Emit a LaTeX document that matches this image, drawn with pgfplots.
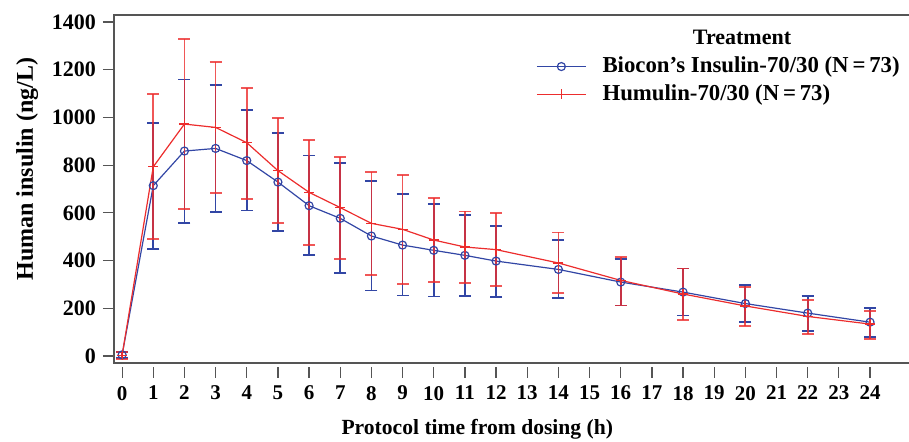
\documentclass[border=0pt]{standalone}
\usepackage{fontspec}
\setmainfont{Liberation Serif}
\usepackage{pgfplots}
\usepackage{pgfplotstable}
\pgfplotsset{compat=1.18}

\definecolor{bioblue}{RGB}{50,70,165}
\definecolor{humred}{RGB}{236,45,45}
\definecolor{axgray}{RGB}{85,85,85}

% mean, error plus, error minus (ng/L)
\pgfplotstableread{
t  m    ep   em
0  5    12   12
1  714  263  266
2  859  300  303
3  870  267  266
4  819  212  209
5  729  204  204
6  630  210  207
7  577  233  229
8  503  229  228
9  465  214  211
10 443  194  193
11 422  170  169
12 398  148  149
14 363  124  121
16 310  97   98
18 268  99   98
20 220  78   77
22 180  73   74
24 142  61   61
}\biocon

\pgfplotstableread{
t  m    ep   em
0  3    15   15
1  793  304  304
2  972  355  357
3  958  274  274
4  894  230  236
5  777  219  221
6  686  218  221
7  622  213  215
8  556  214  217
9  531  229  229
10 486  175  177
11 457  149  151
12 446  155  153
14 390  128  127
16 317  99   105
18 260  107  108
20 210  81   84
22 166  69   73
24 134  56   64
}\humulin

\begin{document}
\begin{tikzpicture}
\begin{axis}[
    at={(0,0)}, anchor=south west, scale only axis,
    width=397.5pt, height=174pt,
    xmin=-0.26, xmax=25.25, ymin=-29, ymax=1429,
    clip=false,
    axis line style={draw=none},
    xtick={0,...,24}, ytick={0,200,...,1400},
    xtick pos=bottom, ytick pos=left,
    tick align=outside, major tick length=5.5pt,
    tick style={axgray, line width=0.6pt},
    x tick style={yshift=-2pt},
    yticklabel style={font=\fontsize{11}{13}\selectfont\bfseries},
    xticklabel style={font=\fontsize{10.5}{12}\selectfont\bfseries, yshift=-2.5pt},
    /pgf/number format/assume math mode=true,
    /pgf/number format/1000 sep={},
    xlabel={Protocol time from dosing (h)},
    xlabel style={font=\fontsize{10.8}{13}\selectfont\bfseries, at={(ticklabel cs:0.457)}, yshift=-2.5pt},
    ylabel={Human insulin (ng/L)},
    ylabel style={font=\fontsize{12}{14}\selectfont\bfseries, at={(ticklabel cs:0.557)}},
    legend style={draw=none, fill=none, at={(rel axis cs:0.523,0.903)}, anchor=north west,
        font=\fontsize{11.4}{13}\selectfont\bfseries, row sep=0.5pt,
        /tikz/every even column/.style={column sep=0pt}},
    legend cell align=left,
    legend image code/.code={\draw[mark repeat=2,mark phase=2,#1] plot coordinates {(0cm,0cm) (0.43cm,0cm) (0.86cm,0cm)};},
]
\addlegendimage{bioblue, line width=0.7pt, mark=o, mark size=2pt, mark options={line width=0.6pt}}
\addlegendentry{\hspace{6pt}Biocon’s Insulin-70/30 (N\,=\,73)}
\addlegendimage{humred, line width=0.7pt, mark=+, mark size=2.5pt, mark options={line width=0.6pt}}
\addlegendentry{\hspace{6pt}Humulin-70/30 (N\,=\,73)}
\addplot[forget plot, bioblue, line width=0.6pt, mark=o, mark size=2pt, mark options={line width=0.6pt},
    error bars/.cd, y dir=both, y explicit,
    error bar style={line width=0.9pt, bioblue},
    error mark options={rotate=90, mark size=3pt, line width=0.9pt, bioblue}]
    table[x=t, y=m, y error plus=ep, y error minus=em] {\biocon};
\addplot[forget plot, humred, line width=0.6pt, mark=+, mark size=2.5pt, mark options={line width=0.6pt},
    error bars/.cd, y dir=both, y explicit,
    error bar style={line width=0.9pt, humred, opacity=0.8},
    error mark options={rotate=90, mark size=3pt, line width=0.9pt, humred, opacity=0.8}]
    table[x=t, y=m, y error plus=ep, y error minus=em] {\humulin};
\draw[axgray, line width=1pt] (rel axis cs:1,1) -- (rel axis cs:0,1) -- (rel axis cs:0,0) -- (rel axis cs:1,0);
\node[font=\fontsize{11}{13}\selectfont\bfseries, anchor=base] at (rel axis cs:0.79,0.914) {Treatment};
\end{axis}
\pgfresetboundingbox
\path[use as bounding box] (-57pt,-39.5pt) rectangle (397.5pt,181.5pt);
\end{tikzpicture}
\end{document}
